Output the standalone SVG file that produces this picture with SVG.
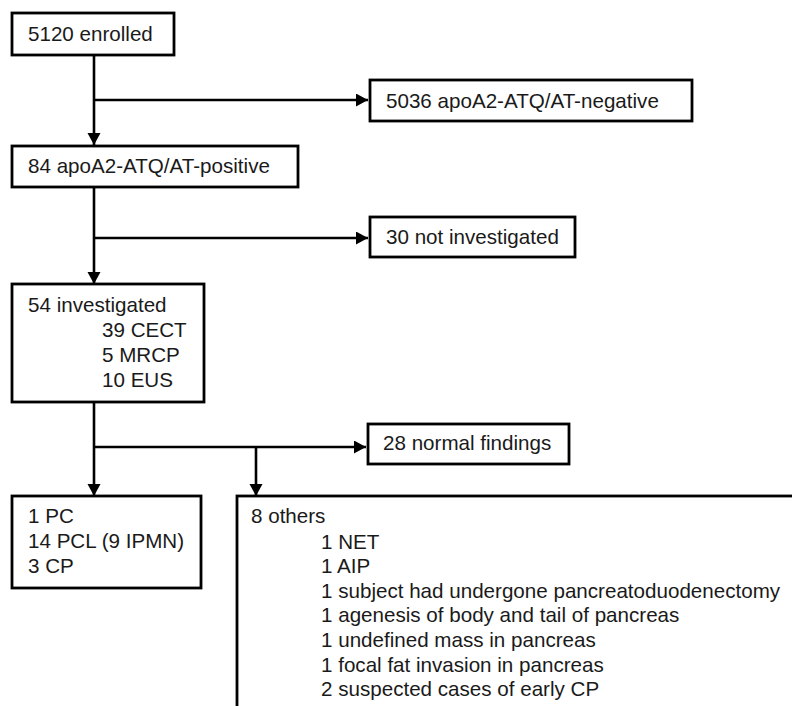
<svg xmlns="http://www.w3.org/2000/svg" width="792" height="706" viewBox="0 0 792 706">
<defs>
<marker id="arr" markerUnits="userSpaceOnUse" markerWidth="14" markerHeight="14" refX="12" refY="6.5" orient="auto">
<path d="M0,0 L12,6.5 L0,13 Z" fill="#000"/>
</marker>
<style>
.box{fill:#fff;stroke:#000;stroke-width:2.8}
.ln{fill:none;stroke:#000;stroke-width:2.6}
.t{font-family:"Liberation Sans",Arial,sans-serif;font-size:20.6px;fill:#1a1a1a}
</style>
</defs>
<rect width="792" height="706" fill="#fff"/>
<g id="connectors">
<line class="ln" x1="94" y1="55" x2="94" y2="145" marker-end="url(#arr)"/>
<line class="ln" x1="94" y1="100" x2="368" y2="100" marker-end="url(#arr)"/>
<line class="ln" x1="94" y1="187" x2="94" y2="284" marker-end="url(#arr)"/>
<line class="ln" x1="94" y1="238" x2="368" y2="238" marker-end="url(#arr)"/>
<line class="ln" x1="94" y1="402" x2="94" y2="496" marker-end="url(#arr)"/>
<line class="ln" x1="94" y1="447" x2="366" y2="447" marker-end="url(#arr)"/>
<line class="ln" x1="256" y1="447" x2="256" y2="496" marker-end="url(#arr)"/>
</g>
<g id="enrolled">
<rect class="box" x="12" y="13" width="162" height="42"/>
<text class="t" x="28" y="41">5120 enrolled</text>
</g>
<g id="negative">
<rect class="box" x="370" y="80" width="322" height="41"/>
<text class="t" x="386" y="108">5036 apoA2-ATQ/AT-negative</text>
</g>
<g id="positive">
<rect class="box" x="12" y="146" width="286" height="41"/>
<text class="t" x="28" y="173">84 apoA2-ATQ/AT-positive</text>
</g>
<g id="notinvestigated">
<rect class="box" x="370" y="217" width="205" height="40"/>
<text class="t" x="386" y="244">30 not investigated</text>
</g>
<g id="investigated">
<rect class="box" x="12" y="284" width="192" height="118"/>
<text class="t" x="28" y="312">54 investigated</text>
<text class="t" x="102" y="337">39 CECT</text>
<text class="t" x="102" y="362">5 MRCP</text>
<text class="t" x="102" y="387">10 EUS</text>
</g>
<g id="normal">
<rect class="box" x="368" y="424" width="201" height="40"/>
<text class="t" x="383" y="450">28 normal findings</text>
</g>
<g id="pc">
<rect class="box" x="12" y="496" width="189" height="92"/>
<text class="t" x="28" y="523">1 PC</text>
<text class="t" x="28" y="548">14 PCL (9 IPMN)</text>
<text class="t" x="28" y="573">3 CP</text>
</g>
<g id="others">
<rect class="box" x="237" y="496" width="600" height="300"/>
<text class="t" x="251" y="523">8 others</text>
<text class="t" x="321" y="549">1 NET</text>
<text class="t" x="321" y="573">1 AIP</text>
<text class="t" x="321" y="598">1 subject had undergone pancreatoduodenectomy</text>
<text class="t" x="321" y="622">1 agenesis of body and tail of pancreas</text>
<text class="t" x="321" y="647">1 undefined mass in pancreas</text>
<text class="t" x="321" y="672">1 focal fat invasion in pancreas</text>
<text class="t" x="321" y="696">2 suspected cases of early CP</text>
</g>
</svg>
